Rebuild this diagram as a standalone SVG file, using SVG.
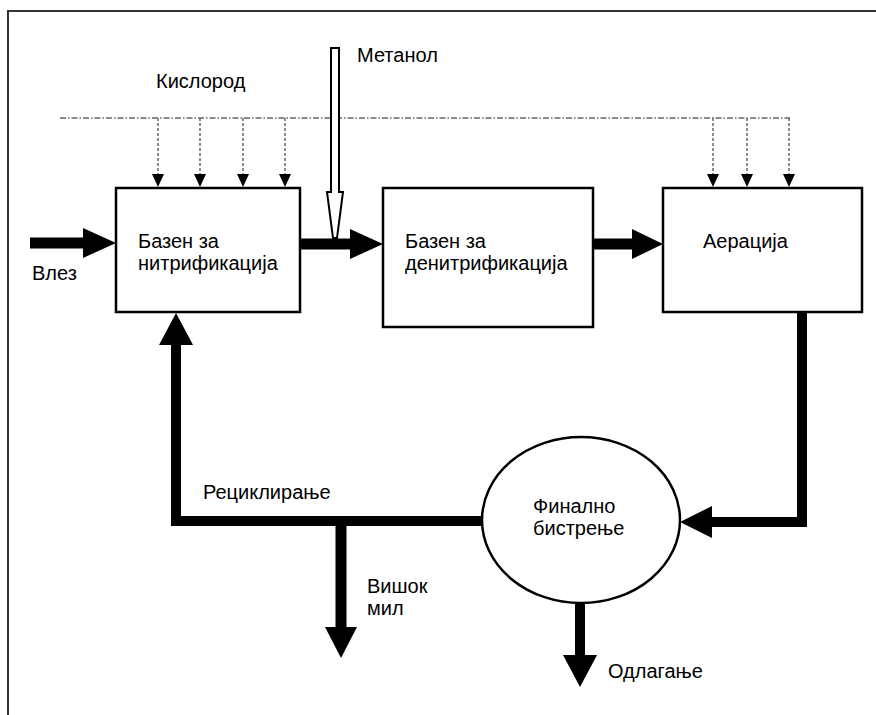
<svg xmlns="http://www.w3.org/2000/svg" width="876" height="715" viewBox="0 0 876 715">
<style>
text{font-family:"Liberation Sans",Arial,sans-serif;font-size:20px;fill:#000}
.box{fill:#fff;stroke:#000;stroke-width:2.5}
.flow{fill:none;stroke:#000;stroke-width:11;stroke-linecap:butt;stroke-linejoin:miter}
.head{fill:#000;stroke:none}
.air{fill:none;stroke:#666;stroke-width:1.5;stroke-dasharray:6 2 1.5 2}
.drop{fill:none;stroke:#666;stroke-width:1.5;stroke-dasharray:3 2}
.frame{fill:none;stroke:#333;stroke-width:2}
</style>
<rect width="876" height="715" fill="#fff"/>
<path class="frame" d="M8,715 V11 H876"/>

<g id="connectors">
  <!-- oxygen supply -->
  <path class="air" d="M60,118 H790"/>
  <g id="oxygen-drops">
    <path class="drop" d="M158,118 V175 M200,118 V175 M243,118 V175 M285,118 V175 M713,118 V175 M747,118 V175 M789,118 V175"/>
    <path class="head" d="M152,174 H164 L158,187 Z M194,174 H206 L200,187 Z M237,174 H249 L243,187 Z M279,174 H291 L285,187 Z M707,174 H719 L713,187 Z M741,174 H753 L747,187 Z M783,174 H795 L789,187 Z"/>
  </g>
  <!-- inlet -->
  <path class="flow" d="M30,243 H86"/>
  <path class="head" d="M83,228 L116,243 L83,258 Z"/>
  <!-- nitrification -> denitrification -->
  <path class="flow" d="M300,244 H352"/>
  <path class="head" d="M350,229 L383,244 L350,259 Z"/>
  <!-- denitrification -> aeration -->
  <path class="flow" d="M593,244 H634"/>
  <path class="head" d="M632,229 L663,244 L632,259 Z"/>
  <!-- aeration -> clarifier -->
  <path class="flow" d="M802,312 V522 H710" style="stroke-width:10"/>
  <path class="head" d="M712,506 L680,522 L712,538 Z"/>
  <!-- recycle -->
  <path class="flow" d="M482,521 H176 V343" style="stroke-width:10"/>
  <path class="head" d="M159,345 L176,313 L193,345 Z"/>
  <!-- excess sludge -->
  <path class="flow" d="M341,521 V629"/>
  <path class="head" d="M325,627 H357 L341,658 Z"/>
  <!-- disposal -->
  <path class="flow" d="M580,603 V657" style="stroke-width:10"/>
  <path class="head" d="M563,655 H597 L580,687 Z"/>
  <!-- methanol -->
  <path id="methanol-arrow" d="M331,48 H339 V192 H343 L337,238 H333 L327,192 H331 Z" fill="#fff" stroke="#000" stroke-width="2"/>
</g>

<g id="nitrification">
  <rect class="box" x="116" y="188" width="184" height="124"/>
  <text x="138" y="248">Базен за</text>
  <text x="138" y="270">нитрификација</text>
</g>
<g id="denitrification">
  <rect class="box" x="383" y="188" width="210" height="139"/>
  <text x="405" y="248">Базен за</text>
  <text x="405" y="270">денитрификација</text>
</g>
<g id="aeration">
  <rect class="box" x="663" y="188" width="199" height="124"/>
  <text x="703" y="248">Аерација</text>
</g>
<g id="clarifier">
  <ellipse cx="581" cy="520" rx="99" ry="83" fill="#fff" stroke="#000" stroke-width="2.5"/>
  <text x="533" y="513">Финално</text>
  <text x="533" y="535">бистрење</text>
</g>

<g id="labels">
  <text x="357" y="62">Метанол</text>
  <text x="156" y="88">Кислород</text>
  <text x="32" y="280">Влез</text>
  <text x="203" y="499">Рециклирање</text>
  <text x="367" y="593">Вишок</text>
  <text x="367" y="615">мил</text>
  <text x="608" y="678">Одлагање</text>
</g>
</svg>
